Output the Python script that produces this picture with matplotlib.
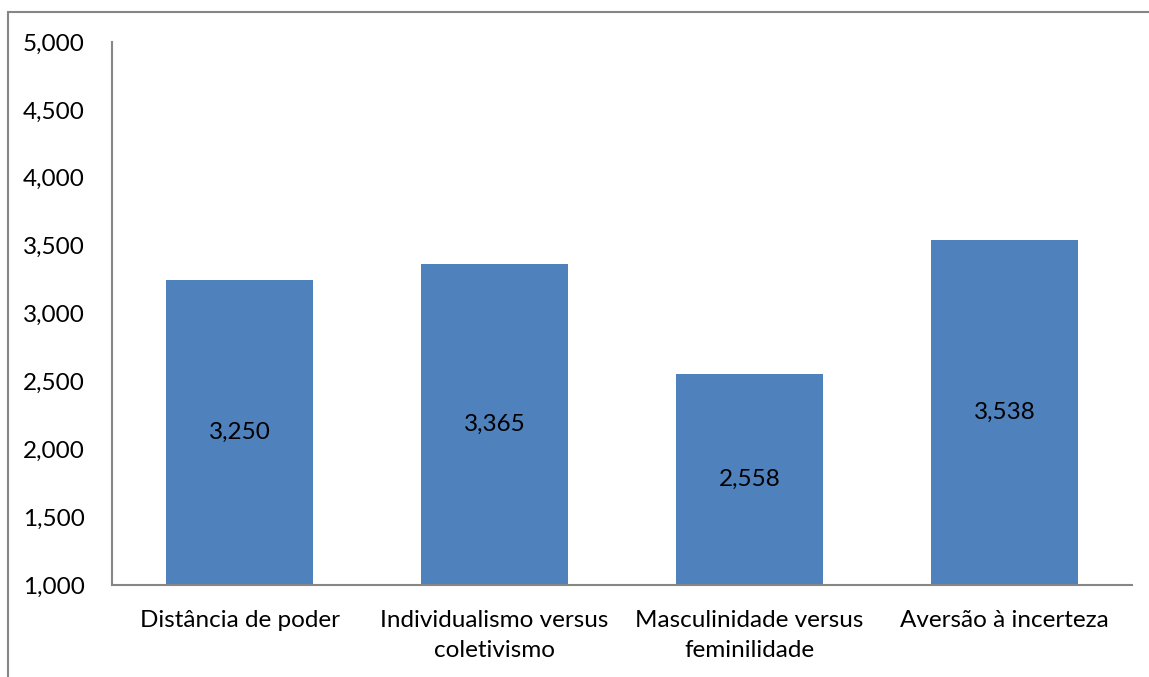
import matplotlib.pyplot as plt
from matplotlib.patches import Rectangle
from matplotlib.ticker import FuncFormatter

# dimensões culturais e médias
categorias = ['Distância de poder', 'Individualismo versus\ncoletivismo',
              'Masculinidade versus\nfeminilidade', 'Aversão à incerteza']
medias = [3.250, 3.365, 2.558, 3.538]
rotulos = ['3,250', '3,365', '2,558', '3,538']

plt.rcParams['font.family'] = ['Lato', 'DejaVu Sans']

fig = plt.figure(figsize=(11.49, 6.77), dpi=100)
ax = fig.add_axes([112 / 1149, 1 - 585 / 677, 1020 / 1149, 543 / 677])

# moldura do gráfico (cortada à direita e em baixo)
fig.patches.append(Rectangle((8 / 1149, -0.05), 1.2, 1 - 12 / 677 + 0.05,
                             transform=fig.transFigure, fill=False,
                             edgecolor='#868686', linewidth=1.5))

base = 1.0
x = range(len(categorias))
barras = ax.bar(x, [m - base for m in medias], bottom=base, width=0.573,
                color='#4F81BD')

for xi, m, r in zip(x, medias, rotulos):
    ax.text(xi, (base + m) / 2, r, ha='center', va='center',
            fontsize=17.5, color='black')

ax.set_xlim(-0.5, len(categorias) - 0.5)
ax.set_ylim(1.0, 5.0)
ax.set_yticks([1.0, 1.5, 2.0, 2.5, 3.0, 3.5, 4.0, 4.5, 5.0])
ax.yaxis.set_major_formatter(FuncFormatter(lambda v, p: f'{v:.3f}'.replace('.', ',')))
ax.set_xticks(list(x))
ax.set_xticklabels(categorias, fontsize=17.5, linespacing=1.55)
ax.tick_params(axis='y', length=0, pad=19.5, labelsize=17.5)
ax.tick_params(axis='x', length=0, pad=18)

for lado in ['top', 'right']:
    ax.spines[lado].set_visible(False)
for lado in ['left', 'bottom']:
    ax.spines[lado].set_color('#868686')
    ax.spines[lado].set_linewidth(1.5)

fig.savefig('out.png', dpi=100)
